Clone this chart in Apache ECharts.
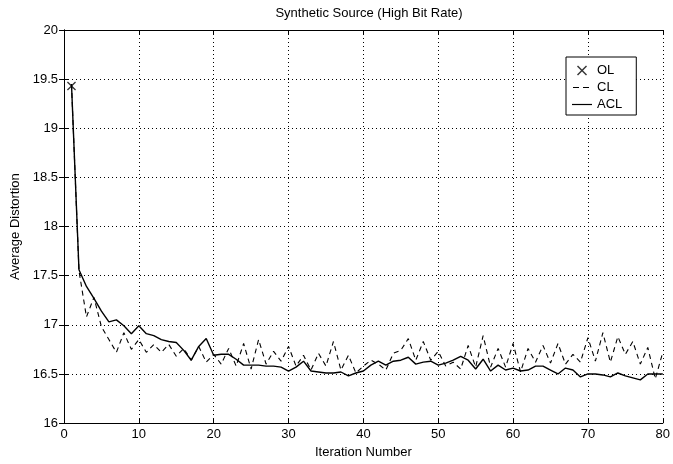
<!DOCTYPE html>
<html><head><meta charset="utf-8">
<script src="https://cdn.jsdelivr.net/npm/echarts@6/dist/echarts.min.js"></script>
<style>html,body{margin:0;padding:0;background:#fff}#c{width:673px;height:464px}</style>
</head><body><div id="c"></div>
<script>
var titleText = 'Synthetic Source (High Bit Rate)';
var xName = 'Iteration Number';
var yName = 'Average Distortion';
var olIter = [1];
var olValues = [19.43];
var aclValues = [19.45,17.56,17.39,17.27,17.14,17.03,17.05,16.99,16.91,16.99,
 16.91,16.89,16.85,16.83,16.82,16.74,16.64,16.78,16.86,16.69,
 16.70,16.70,16.65,16.59,16.59,16.59,16.58,16.58,16.57,16.53,
 16.57,16.63,16.53,16.52,16.51,16.51,16.52,16.48,16.51,16.53,
 16.59,16.63,16.59,16.63,16.64,16.67,16.60,16.62,16.63,16.59,
 16.61,16.64,16.68,16.64,16.55,16.65,16.53,16.59,16.54,16.56,
 16.53,16.54,16.58,16.58,16.54,16.50,16.56,16.54,16.47,16.50,
 16.50,16.49,16.47,16.51,16.48,16.46,16.44,16.50,16.50,16.50];
var clValues = [19.45,17.55,17.08,17.28,16.98,16.85,16.72,16.92,16.75,16.85,
 16.72,16.80,16.72,16.80,16.68,16.76,16.64,16.78,16.62,16.70,
 16.60,16.76,16.58,16.81,16.55,16.85,16.60,16.73,16.63,16.78,
 16.58,16.69,16.54,16.71,16.58,16.83,16.54,16.69,16.51,16.58,
 16.64,16.60,16.54,16.71,16.74,16.86,16.64,16.83,16.64,16.73,
 16.58,16.62,16.55,16.79,16.57,16.89,16.57,16.76,16.57,16.81,
 16.52,16.76,16.62,16.79,16.61,16.81,16.60,16.70,16.62,16.87,
 16.63,16.92,16.62,16.88,16.70,16.83,16.60,16.77,16.45,16.72];
var xMin = 0, xMax = 80, xStep = 10;
var yMin = 16, yMax = 20, yStep = 0.5;

function pairs(vals){ return vals.map(function(v,i){ return [i+1, v]; }); }
var FONT = '"Liberation Sans", Arial, Helvetica, sans-serif';
var chart = echarts.init(document.getElementById('c'), null, {renderer:'canvas'});
var tick = {show:true, inside:true, length:5, lineStyle:{color:'#000', width:1}};
var grid = {type:[1,3], color:'#000', width:1};
var cross = 'path://M0,1L1,0L5,4L9,0L10,1L6,5L10,9L9,10L5,6L1,10L0,9L4,5Z';
var solidIcon = 'path://M0,0L0,0M20,10L20,10M0,4.4L20,4.4L20,5.6L0,5.6Z';
var dashIcon = 'path://M0,0L0,0M20,10L20,10M1,4.5L7,4.5L7,5.5L1,5.5ZM11,4.5L17,4.5L17,5.5L11,5.5Z';
chart.setOption({
  animation:false,
  backgroundColor:'#fff',
  textStyle:{fontFamily:FONT, color:'#000'},
  title:{text:titleText, left:364, textAlign:'center', top:2,
    textStyle:{fontFamily:FONT, fontSize:13, fontWeight:'normal', color:'#000'}},
  grid:{left:64, right:9, top:30, bottom:36, containLabel:false},
  legend:{orient:'vertical', left:566, top:57, backgroundColor:'#fff',
    borderColor:'#000', borderWidth:1, padding:[7,14,4,6], itemGap:4,
    itemWidth:20, itemHeight:10,
    textStyle:{fontFamily:FONT, fontSize:13, color:'#000'},
    data:[{name:'OL'},{name:'CL', icon:dashIcon},{name:'ACL', icon:solidIcon}]},
  xAxis:[{type:'value', min:xMin, max:xMax, interval:xStep, name:xName,
    nameLocation:'middle', nameGap:21,
    nameTextStyle:{fontFamily:FONT, fontSize:13, color:'#000'},
    axisLine:{show:true, lineStyle:{color:'#000', width:1}},
    axisTick:tick, axisLabel:{fontFamily:FONT, fontSize:13, color:'#000', margin:5},
    splitLine:{show:true, lineStyle:grid}},
    {type:'value', position:'top', min:xMin, max:xMax, interval:xStep,
    axisLine:{show:true, lineStyle:{color:'#000', width:1}},
    axisTick:tick, axisLabel:{show:false}, splitLine:{show:false}}],
  yAxis:[{type:'value', min:yMin, max:yMax, interval:yStep, name:yName,
    nameLocation:'middle', nameGap:37,
    nameTextStyle:{fontFamily:FONT, fontSize:13, color:'#000'},
    axisLine:{show:true, lineStyle:{color:'#000', width:1}},
    axisTick:tick, axisLabel:{fontFamily:FONT, fontSize:13, color:'#000', margin:6},
    splitLine:{show:true, lineStyle:grid}},
    {type:'value', position:'right', min:yMin, max:yMax, interval:yStep,
    axisLine:{show:true, lineStyle:{color:'#000', width:1}},
    axisTick:tick, axisLabel:{show:false}, splitLine:{show:false}}],
  series:[
    {name:'OL', type:'scatter', symbol:cross, symbolSize:9,
      itemStyle:{color:'#000'}, data:olIter.map(function(x,i){return [x, olValues[i]];}), z:5},
    {name:'CL', type:'line', showSymbol:false, symbol:'none',
      lineStyle:{color:'#000', width:1.1, type:[5,4]}, itemStyle:{color:'#000'},
      data:pairs(clValues)},
    {name:'ACL', type:'line', showSymbol:false, symbol:'none',
      lineStyle:{color:'#000', width:1.4, type:'solid'}, itemStyle:{color:'#000'},
      data:pairs(aclValues)}
  ]
});
</script></body></html>
